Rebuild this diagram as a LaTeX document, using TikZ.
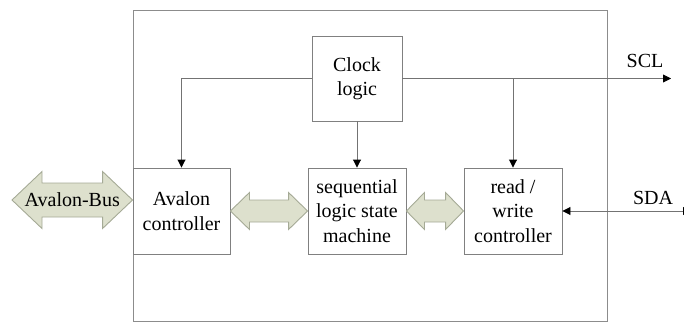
\documentclass[tikz,border=0pt]{standalone}
\usepackage{fontspec}
\setmainfont{Liberation Serif}
\usetikzlibrary{arrows.meta,calc}
\definecolor{busfill}{RGB}{221,224,205}
\definecolor{busline}{RGB}{165,170,150}
\definecolor{wiregray}{RGB}{115,115,115}
% double-headed bus arrow: left tip, right tip, head length, head half-height, shaft half-height
\newcommand\dblarrow[5]{%
  \draw[bus] (#1) -- ($(#1)+(#3,-#4)$) -- ($(#1)+(#3,-#5)$)
    -- ($(#2)+(-#3,-#5)$) -- ($(#2)+(-#3,-#4)$) -- (#2)
    -- ($(#2)+(-#3,#4)$) -- ($(#2)+(-#3,#5)$)
    -- ($(#1)+(#3,#5)$) -- ($(#1)+(#3,#4)$) -- cycle;}
\begin{document}
\begin{tikzpicture}[x=1pt,y=-1pt,
  txt/.style={font=\rmfamily\fontsize{20}{24.5}\selectfont},
  block/.style={txt,draw=black!50,line width=0.9pt,fill=white,align=center,inner sep=0pt},
  frame/.style={draw=black!45,line width=1pt,inner sep=0pt},
  wire/.style={draw=wiregray,line width=0.9pt,-{Triangle[length=8pt,width=8pt,color=black]}},
  bus/.style={draw=busline,line width=0.9pt,fill=busfill,line join=miter},
  lbl/.style={txt,inner sep=0pt}]
\useasboundingbox (0,0) rectangle (684,323);

% enclosing module
\node[frame,minimum width=474pt,minimum height=310pt] (frame) at (370,166) {};

% functional blocks
\node[block,minimum width=90pt,minimum height=85pt] (clock) at (357,78.5) {Clock\\logic};
\node[block,minimum width=97pt,minimum height=86pt] (av) at (181.5,211) {Avalon\\controller};
\node[block,minimum width=98pt,minimum height=86pt] (seq) at (357,211) {sequential\\logic state\\machine};
\node[block,minimum width=98pt,minimum height=86pt] (rw) at (513,211) {read /\\write\\controller};

% clock distribution
\draw[wire] (clock.west) -| (av.north);
\draw[wire] (clock.south) -- (seq.north);
\draw[wire] (clock.east) -| (rw.north);
\coordinate (sclend) at (671,78.5);
\draw[wire] (clock.east) -- (sclend);
\node[lbl] (scl) at (645,61) {SCL};

% serial data line
\coordinate (sdaend) at (691,211);
\draw[draw=wiregray,line width=0.9pt,{Triangle[length=8pt,width=8pt,color=black]}-{Triangle[length=8pt,width=8pt,color=black]}] (rw.east) -- (sdaend);
\node[lbl] (sda) at (653,198) {SDA};

% bus arrows
\coordinate (busL) at (12,200);
\coordinate (busR) at ($(av.west)+(0,-11)$);
\dblarrow{busL}{busR}{30}{28.5}{17}
\node[lbl] (busname) at ($(busL)!0.5!(busR)$) {Avalon-Bus};
\dblarrow{av.east}{seq.west}{19}{18.5}{11}
\dblarrow{seq.east}{rw.west}{18}{18.5}{11}
\end{tikzpicture}
\end{document}
